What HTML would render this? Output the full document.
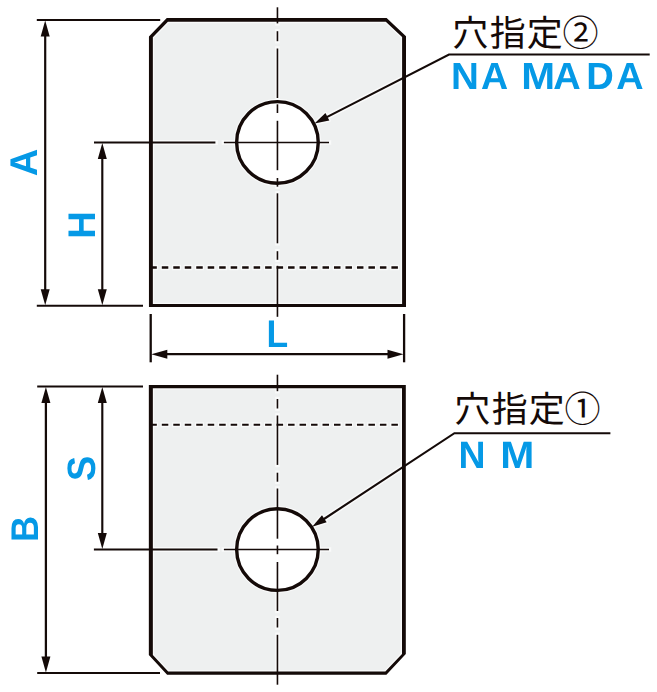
<!DOCTYPE html>
<html lang="ja">
<head>
<meta charset="utf-8">
<title>穴指定</title>
<style>
html,body{margin:0;padding:0;background:#fff;}
body{width:657px;height:692px;overflow:hidden;font-family:"Liberation Sans",sans-serif;}
svg{display:block;}
svg text{font-family:"Liberation Sans",sans-serif;font-weight:700;font-size:40px;fill:#0599e6;text-rendering:geometricPrecision;}
svg text.jp{font-family:"Liberation Sans","Noto Sans CJK JP",sans-serif;font-weight:400;font-size:36px;fill:#140a08;stroke:none;}
</style>
</head>
<body>
<svg width="657" height="692" viewBox="0 0 657 692" role="img" aria-label="穴指定② NA MA DA / 穴指定① N M">
<rect x="0" y="0" width="657" height="692" fill="#fff"/>
<g id="fills">
<polygon points="148.95,36.5 166.8,18.1 386.6,18.1 406,36.2 406,306.9 148.95,306.9" fill="#eef0f0"/>
<circle cx="277.45" cy="142.4" r="40.8" fill="#fff"/>
<polygon points="148.85,384.9 405.8,384.9 405.8,654.1 386.4,674.7 167.1,674.7 148.85,655" fill="#eef0f0"/>
<circle cx="277.45" cy="549.6" r="40.8" fill="#fff"/>
</g>
<g id="halos" stroke="#fff" opacity="0.68">
<polygon points="152.85,37.36 167.9,21.85 385.78,21.85 402.1,37.07 402.1,303.95 152.85,303.95" fill="none" stroke-width="2.6" stroke-linejoin="miter"/>
<line x1="149.12" y1="267.5" x2="399.2" y2="267.5" stroke-width="5.7" stroke-dasharray="8.9 2.58"/>
<circle cx="277.45" cy="142.4" r="40.8" fill="none" stroke-width="5.8"/>
<line x1="277.45" y1="7.3" x2="277.45" y2="23.4" stroke-width="4.6" stroke-linecap="square"/>
<line x1="277.45" y1="31.2" x2="277.45" y2="41.2" stroke-width="4.6" stroke-linecap="square"/>
<line x1="277.45" y1="48.5" x2="277.45" y2="98" stroke-width="4.6" stroke-linecap="square"/>
<line x1="277.45" y1="104.3" x2="277.45" y2="113" stroke-width="4.6" stroke-linecap="square"/>
<line x1="277.45" y1="120.8" x2="277.45" y2="170.2" stroke-width="4.6" stroke-linecap="square"/>
<line x1="277.45" y1="178" x2="277.45" y2="186.7" stroke-width="4.6" stroke-linecap="square"/>
<line x1="277.45" y1="193.3" x2="277.45" y2="243.3" stroke-width="4.6" stroke-linecap="square"/>
<line x1="277.45" y1="251.2" x2="277.45" y2="259.8" stroke-width="4.6" stroke-linecap="square"/>
<line x1="277.45" y1="265.8" x2="277.45" y2="316.8" stroke-width="4.6" stroke-linecap="square"/>
<line x1="223.9" y1="142.4" x2="329" y2="142.4" stroke-width="4.5" stroke-linecap="square"/>
<line x1="94" y1="142.4" x2="215.4" y2="142.4" stroke-width="5" stroke-linecap="square"/>
<polygon points="45.2,20.5 49.7,36.5 40.7,36.5" fill="#fff" stroke-width="3" stroke-linejoin="round"/>
<polygon points="45.2,305.2 40.7,289.2 49.7,289.2" fill="#fff" stroke-width="3" stroke-linejoin="round"/>
<polygon points="102.3,142.9 106.8,158.9 97.8,158.9" fill="#fff" stroke-width="3" stroke-linejoin="round"/>
<polygon points="102.3,305.2 97.8,289.2 106.8,289.2" fill="#fff" stroke-width="3" stroke-linejoin="round"/>
<polygon points="151.3,354.2 167.3,349.7 167.3,358.7" fill="#fff" stroke-width="3" stroke-linejoin="round"/>
<polygon points="403.5,354.2 387.5,358.7 387.5,349.7" fill="#fff" stroke-width="3" stroke-linejoin="round"/>
<polygon points="152.85,388.2 402,388.2 402,653.91 385.34,671.6 168.18,671.6 152.85,655.05" fill="none" stroke-width="2.6" stroke-linejoin="miter"/>
<line x1="149.12" y1="424.8" x2="399.2" y2="424.8" stroke-width="5.1" stroke-dasharray="8.9 2.58"/>
<circle cx="277.45" cy="549.6" r="40.8" fill="none" stroke-width="5.8"/>
<line x1="277.45" y1="374.7" x2="277.45" y2="391.2" stroke-width="4.6" stroke-linecap="square"/>
<line x1="277.45" y1="399" x2="277.45" y2="408.5" stroke-width="4.6" stroke-linecap="square"/>
<line x1="277.45" y1="415.5" x2="277.45" y2="464.9" stroke-width="4.6" stroke-linecap="square"/>
<line x1="277.45" y1="472.7" x2="277.45" y2="481.7" stroke-width="4.6" stroke-linecap="square"/>
<line x1="277.45" y1="488.5" x2="277.45" y2="538.7" stroke-width="4.6" stroke-linecap="square"/>
<line x1="277.45" y1="545.5" x2="277.45" y2="554.2" stroke-width="4.6" stroke-linecap="square"/>
<line x1="277.45" y1="562" x2="277.45" y2="611" stroke-width="4.6" stroke-linecap="square"/>
<line x1="277.45" y1="618" x2="277.45" y2="627.5" stroke-width="4.6" stroke-linecap="square"/>
<line x1="277.45" y1="634.8" x2="277.45" y2="684.7" stroke-width="4.6" stroke-linecap="square"/>
<line x1="223.9" y1="549.6" x2="329" y2="549.6" stroke-width="4.5" stroke-linecap="square"/>
<line x1="93.9" y1="549.6" x2="217.5" y2="549.6" stroke-width="5" stroke-linecap="square"/>
<polygon points="45.9,387.1 50.4,403.1 41.4,403.1" fill="#fff" stroke-width="3" stroke-linejoin="round"/>
<polygon points="45.9,672.6 41.4,656.6 50.4,656.6" fill="#fff" stroke-width="3" stroke-linejoin="round"/>
<polygon points="102.3,387.1 106.8,403.1 97.8,403.1" fill="#fff" stroke-width="3" stroke-linejoin="round"/>
<polygon points="102.3,549.1 97.8,533.1 106.8,533.1" fill="#fff" stroke-width="3" stroke-linejoin="round"/>
<polyline points="649.7,54.5 449,54.5 323.37,118.87" fill="none" stroke-width="5.15" stroke-linejoin="miter"/>
<polygon points="314.47,123.43 325.44,113.04 329.32,120.6" fill="#fff" stroke-width="3" stroke-linejoin="round"/>
<polyline points="610.4,433.2 454.4,433.2 320.56,521.24" fill="none" stroke-width="5.15" stroke-linejoin="miter"/>
<polygon points="312.2,526.74 321.98,515.22 326.65,522.32" fill="#fff" stroke-width="3" stroke-linejoin="round"/>
</g>
<g id="ink" stroke="#140a08">
<path d="M148.95 36.5 L166.8 18.1 L386.6 18.1 L406 36.2 L406 306.9 L148.95 306.9 Z M152.85 37.36 L167.9 21.85 L385.78 21.85 L402.1 37.07 L402.1 303.95 L152.85 303.95 Z" fill="#140a08" fill-rule="evenodd" stroke="none"/>
<line x1="150.32" y1="267.5" x2="398" y2="267.5" stroke-width="2.7" stroke-dasharray="6.5 4.98"/>
<circle cx="277.45" cy="142.4" r="40.8" fill="none" stroke-width="3.4"/>
<line x1="277.45" y1="7.3" x2="277.45" y2="23.4" stroke-width="1.6"/>
<line x1="277.45" y1="31.2" x2="277.45" y2="41.2" stroke-width="1.6"/>
<line x1="277.45" y1="48.5" x2="277.45" y2="98" stroke-width="1.6"/>
<line x1="277.45" y1="104.3" x2="277.45" y2="113" stroke-width="1.6"/>
<line x1="277.45" y1="120.8" x2="277.45" y2="170.2" stroke-width="1.6"/>
<line x1="277.45" y1="178" x2="277.45" y2="186.7" stroke-width="1.6"/>
<line x1="277.45" y1="193.3" x2="277.45" y2="243.3" stroke-width="1.6"/>
<line x1="277.45" y1="251.2" x2="277.45" y2="259.8" stroke-width="1.6"/>
<line x1="277.45" y1="265.8" x2="277.45" y2="316.8" stroke-width="1.6"/>
<line x1="223.9" y1="142.4" x2="329" y2="142.4" stroke-width="1.5"/>
<line x1="94" y1="142.4" x2="215.4" y2="142.4" stroke-width="2"/>
<line x1="36.8" y1="20" x2="160.2" y2="20" stroke-width="2"/>
<line x1="36.8" y1="305.7" x2="143" y2="305.7" stroke-width="2"/>
<line x1="45.2" y1="28" x2="45.2" y2="297.5" stroke-width="2.2"/>
<polygon points="45.2,20.5 49.7,36.5 40.7,36.5" fill="#140a08" stroke="none"/>
<polygon points="45.2,305.2 40.7,289.2 49.7,289.2" fill="#140a08" stroke="none"/>
<line x1="102.3" y1="150.4" x2="102.3" y2="297.5" stroke-width="2.15"/>
<polygon points="102.3,142.9 106.8,158.9 97.8,158.9" fill="#140a08" stroke="none"/>
<polygon points="102.3,305.2 97.8,289.2 106.8,289.2" fill="#140a08" stroke="none"/>
<line x1="150.7" y1="314" x2="150.7" y2="362.3" stroke-width="2.3"/>
<line x1="404.1" y1="314" x2="404.1" y2="362.3" stroke-width="2.3"/>
<line x1="158.8" y1="354.2" x2="396" y2="354.2" stroke-width="2.3"/>
<polygon points="151.3,354.2 167.3,349.7 167.3,358.7" fill="#140a08" stroke="none"/>
<polygon points="403.5,354.2 387.5,358.7 387.5,349.7" fill="#140a08" stroke="none"/>
<path d="M148.85 384.9 L405.8 384.9 L405.8 654.1 L386.4 674.7 L167.1 674.7 L148.85 655 Z M152.85 388.2 L402 388.2 L402 653.91 L385.34 671.6 L168.18 671.6 L152.85 655.05 Z" fill="#140a08" fill-rule="evenodd" stroke="none"/>
<line x1="150.32" y1="424.8" x2="398" y2="424.8" stroke-width="2.1" stroke-dasharray="6.5 4.98"/>
<circle cx="277.45" cy="549.6" r="40.8" fill="none" stroke-width="3.4"/>
<line x1="277.45" y1="374.7" x2="277.45" y2="391.2" stroke-width="1.6"/>
<line x1="277.45" y1="399" x2="277.45" y2="408.5" stroke-width="1.6"/>
<line x1="277.45" y1="415.5" x2="277.45" y2="464.9" stroke-width="1.6"/>
<line x1="277.45" y1="472.7" x2="277.45" y2="481.7" stroke-width="1.6"/>
<line x1="277.45" y1="488.5" x2="277.45" y2="538.7" stroke-width="1.6"/>
<line x1="277.45" y1="545.5" x2="277.45" y2="554.2" stroke-width="1.6"/>
<line x1="277.45" y1="562" x2="277.45" y2="611" stroke-width="1.6"/>
<line x1="277.45" y1="618" x2="277.45" y2="627.5" stroke-width="1.6"/>
<line x1="277.45" y1="634.8" x2="277.45" y2="684.7" stroke-width="1.6"/>
<line x1="223.9" y1="549.6" x2="329" y2="549.6" stroke-width="1.5"/>
<line x1="93.9" y1="549.6" x2="217.5" y2="549.6" stroke-width="2"/>
<line x1="37.2" y1="386.6" x2="143" y2="386.6" stroke-width="2"/>
<line x1="37.2" y1="673.1" x2="160" y2="673.1" stroke-width="2"/>
<line x1="45.9" y1="394.6" x2="45.9" y2="665.1" stroke-width="2.25"/>
<polygon points="45.9,387.1 50.4,403.1 41.4,403.1" fill="#140a08" stroke="none"/>
<polygon points="45.9,672.6 41.4,656.6 50.4,656.6" fill="#140a08" stroke="none"/>
<line x1="102.3" y1="394.6" x2="102.3" y2="541.6" stroke-width="2.15"/>
<polygon points="102.3,387.1 106.8,403.1 97.8,403.1" fill="#140a08" stroke="none"/>
<polygon points="102.3,549.1 97.8,533.1 106.8,533.1" fill="#140a08" stroke="none"/>
<polyline points="649.7,54.5 449,54.5 323.37,118.87" fill="none" stroke-width="2.15" stroke-linejoin="miter"/>
<polygon points="314.47,123.43 325.44,113.04 329.32,120.6" fill="#140a08" stroke="none"/>
<polyline points="610.4,433.2 454.4,433.2 320.56,521.24" fill="none" stroke-width="2.15" stroke-linejoin="miter"/>
<polygon points="312.2,526.74 321.98,515.22 326.65,522.32" fill="#140a08" stroke="none"/>
<text class="jp" x="452.2 489.8 526.7" y="45.7">穴指定</text>
<text class="jp" x="580.5" y="45.7" text-anchor="middle">②</text>
<text class="jp" x="454.2 491.8 528.7" y="421.6">穴指定</text>
<text class="jp" x="582.5" y="421.6" text-anchor="middle">①</text>
</g>
<g id="labels" opacity="0.999">
<text transform="matrix(0.9653 0 0 0.9484 450.92 89.1)">N</text>
<text transform="matrix(0.939 0 0 0.9484 480.96 89.1)">A</text>
<text transform="matrix(1.0154 0 0 0.9484 521.18 89.1)">M</text>
<text transform="matrix(0.9502 0 0 0.9484 553.25 89.1)">A</text>
<text transform="matrix(0.9539 0 0 0.9484 586.35 89.1)">D</text>
<text transform="matrix(0.9465 0 0 0.9484 616.36 89.1)">A</text>
<text transform="matrix(0.9355 0 0 0.9557 458.6 467.7)">N</text>
<text transform="matrix(1.0226 0 0 0.9557 500.16 467.7)">M</text>
<text transform="matrix(0.8866 0 0 0.963 266.53 346.6)">L</text>
<text transform="matrix(0 -0.9502 0.9648 0 37.3 176.35)">A</text>
<text transform="matrix(0 -0.9504 0.963 0 94.5 238.64)">H</text>
<text transform="matrix(0 -0.9018 0.963 0 38.1 542.01)">B</text>
<text transform="matrix(0 -0.9472 0.9887 0 94.71 480.89)">S</text>
</g>
</svg>
</body>
</html>
